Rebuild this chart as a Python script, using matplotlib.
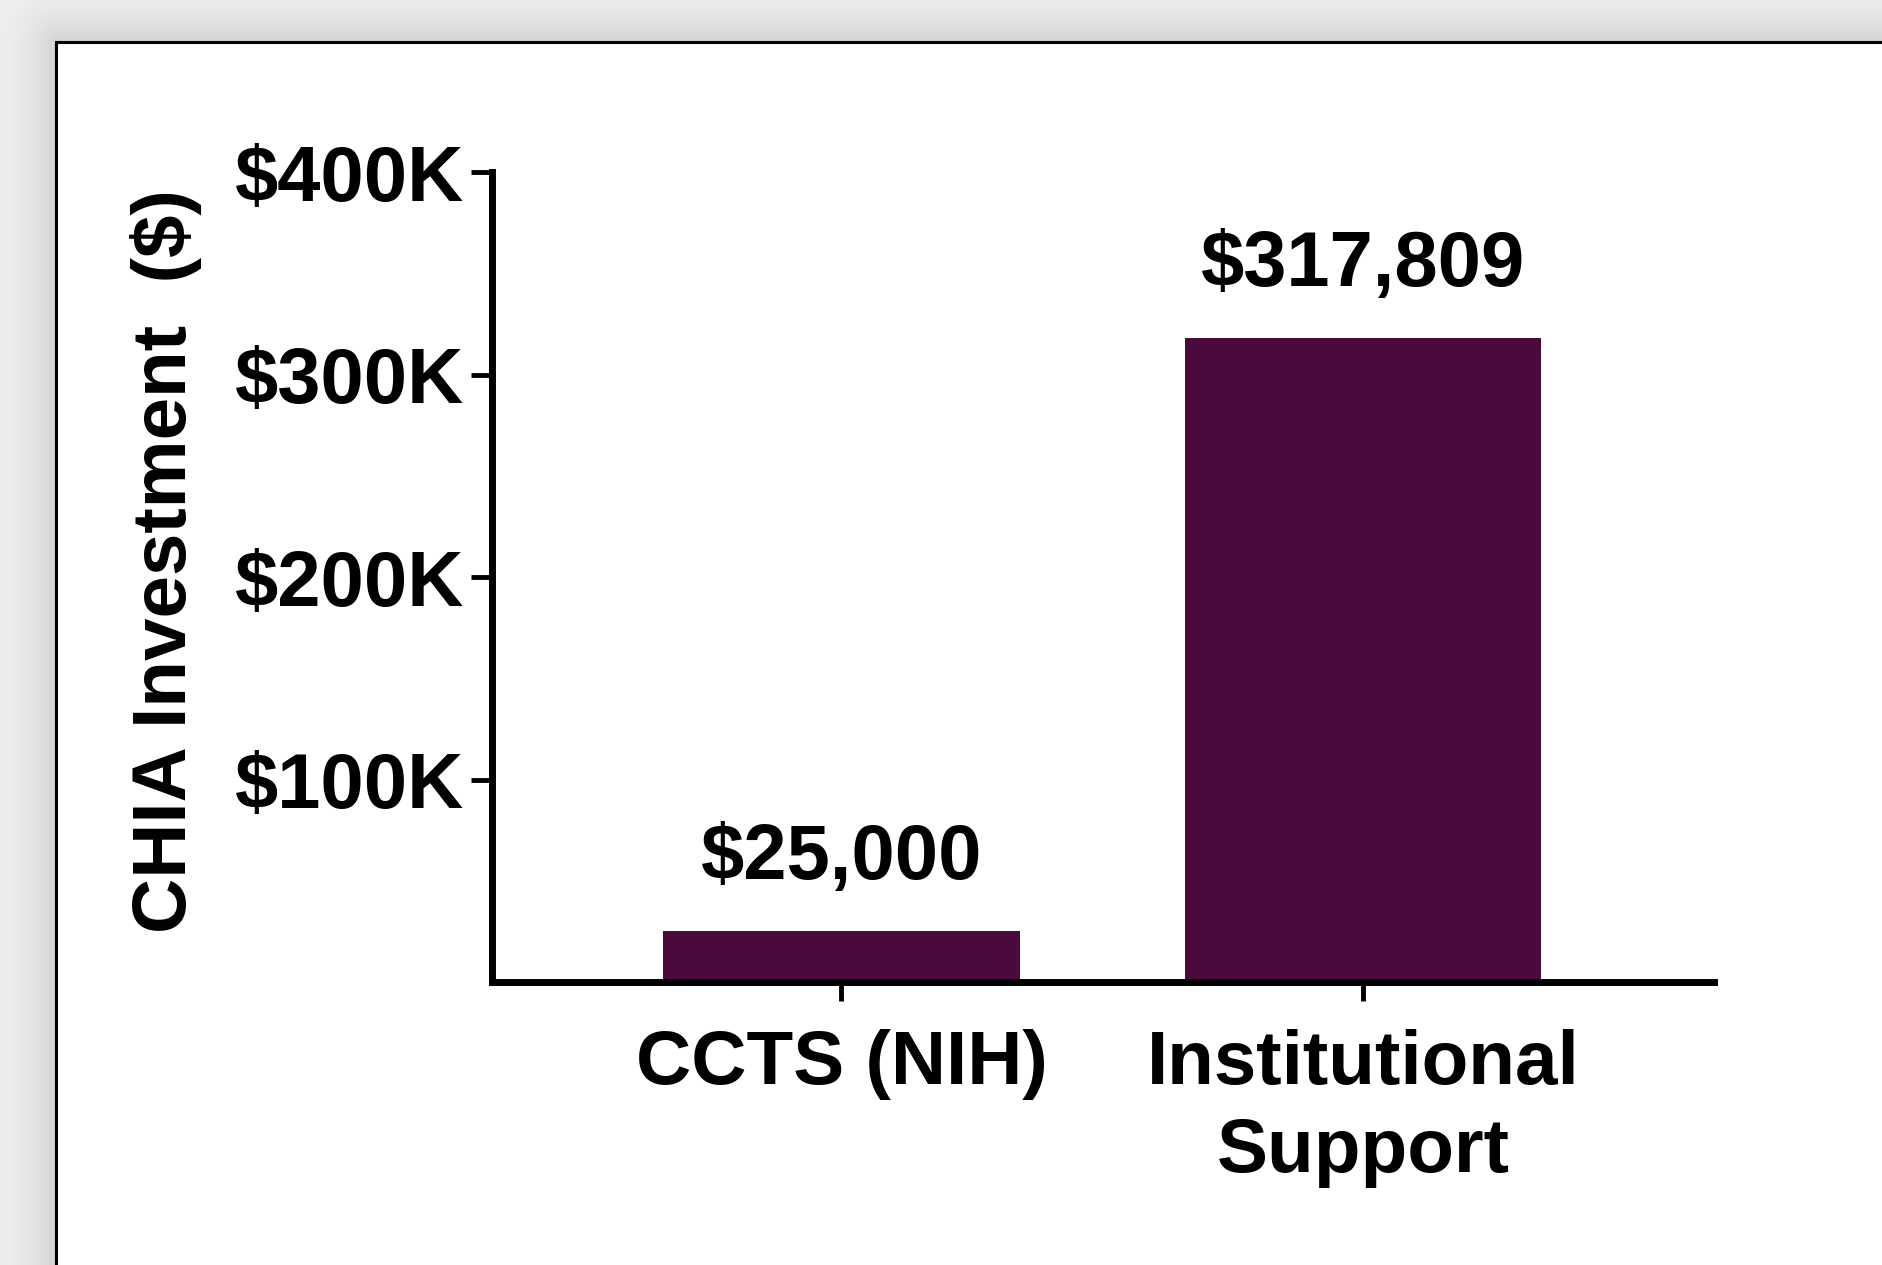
import numpy as np
from matplotlib import pyplot as plt
from matplotlib.patches import Rectangle

# values
categories = ["CCTS (NIH)", "Institutional\nSupport"]
amounts = [25000, 317809]
bar_labels = ["$25,000", "$317,809"]
ytick_values = [100000, 200000, 300000, 400000]
ytick_labels = ["$100K", "$200K", "$300K", "$400K"]

W, H = 1883, 1265
plt.rcParams['font.family'] = ['Liberation Sans', 'DejaVu Sans']
plt.rcParams['font.weight'] = 'bold'

fig = plt.figure(figsize=(W / 100, H / 100), dpi=100)

# gray backdrop with a soft shadow round the white panel
bg = fig.add_axes([0, 0, 1, 1])
px_left, px_top = 56, 42
xx, yy = np.meshgrid(np.arange(W), np.arange(H))
dx = np.clip(px_left - xx, 0, None)
dy = np.clip(px_top - yy, 0, None)
d = np.sqrt(dx ** 2 + dy ** 2)
shade = 0.95 - 0.13 * np.exp(-d / 30.0)
bg.imshow(shade, cmap='gray', vmin=0, vmax=1, extent=[0, W, H, 0], aspect='auto')
bg.add_patch(Rectangle((px_left, px_top), W, H, facecolor='white',
                       edgecolor='black', linewidth=2.2))
bg.set_xlim(0, W)
bg.set_ylim(H, 0)
bg.axis('off')

ax = fig.add_axes([0.2613, 0.2237, 0.9103 - 0.2613, 0.864 - 0.2237])
ax.patch.set_alpha(0)
x = np.arange(len(categories))
bars = ax.bar(x, amounts, width=0.684, color='#4a0a3c')

for b, lab in zip(bars, bar_labels):
    ax.annotate(lab, (b.get_x() + b.get_width() / 2, b.get_height()),
                xytext=(0, 38), textcoords='offset points',
                ha='center', va='baseline', fontsize=56, fontweight='bold')

ax.set_xlim(-0.670, 1.673)
ax.set_ylim(0, 400000)
ax.set_xticks(x)
ax.set_xticklabels(categories, fontsize=55, fontweight='bold', linespacing=1.3)
ax.set_yticks(ytick_values)
ax.set_yticklabels(ytick_labels, fontsize=56, fontweight='bold')
ax.set_ylabel("CHIA Investment  ($)", fontsize=55, fontweight='bold', labelpad=24)
ax.yaxis.label.set_y(0.52)

for side in ['top', 'right']:
    ax.spines[side].set_visible(False)
for side in ['left', 'bottom']:
    ax.spines[side].set_linewidth(5)
ax.tick_params(axis='y', length=15, width=3.5, pad=5)
ax.tick_params(axis='x', length=14, width=3.5, pad=20)

fig.savefig('out.png', dpi=100)
